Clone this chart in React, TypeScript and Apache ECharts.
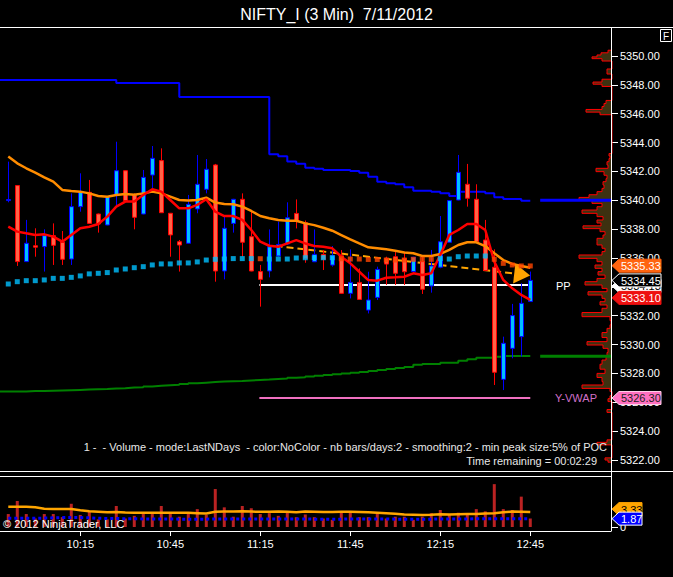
import React, { useEffect, useRef } from 'react';
import * as echarts from 'echarts';

// ---------- data ----------
const times = ['9:51','9:54','9:57','10:00','10:03','10:06','10:09','10:12','10:15','10:18','10:21','10:24','10:27','10:30','10:33','10:36','10:39','10:42','10:45','10:48','10:51','10:54','10:57','11:00','11:03','11:06','11:09','11:12','11:15','11:18','11:21','11:24','11:27','11:30','11:33','11:36','11:39','11:42','11:45','11:48','11:51','11:54','11:57','12:00','12:03','12:06','12:09','12:12','12:15','12:18','12:21','12:24','12:27','12:30','12:33','12:36','12:39','12:42','12:45'];

const opens = [5339.98,5341.02,5335.75,5336.85,5336.79,5337.55,5337.09,5335.93,5339.56,5340.55,
  5339.05,5338.29,5340.37,5342.05,5340.37,5339.05,5341.75,5342.75,5339.10,5337.13,
  5337.02,5339.40,5340.76,5342.45,5335.10,5338.40,5340.07,5337.48,5335.06,5335.10,
  5336.14,5336.97,5339.09,5338.45,5335.74,5336.25,5335.51,5336.16,5333.55,5334.31,
  5332.39,5333.27,5335.97,5336.09,5335.97,5335.06,5335.75,5334.06,5335.36,5337.09,
  5340.02,5341.11,5340.07,5337.25,5335.36,5327.59,5329.74,5330.55,5332.98];
const closes = [5340.05,5335.75,5337.02,5336.75,5337.55,5336.88,5335.91,5339.56,5340.60,5338.40,
  5338.36,5340.25,5342.05,5339.98,5338.82,5341.59,5342.91,5339.14,5337.60,5336.90,
  5339.72,5341.11,5342.15,5335.10,5338.06,5340.07,5337.09,5335.10,5334.52,5336.78,
  5336.94,5338.79,5338.59,5335.97,5336.25,5335.91,5336.16,5333.55,5334.31,5333.13,
  5333.09,5335.21,5335.58,5334.94,5335.05,5336.05,5333.83,5335.45,5337.13,5339.98,
  5341.94,5340.14,5337.13,5335.13,5328.08,5330.09,5332.01,5332.86,5334.45];
const lows = [5339.86,5335.45,5335.72,5336.09,5335.06,5335.52,5335.52,5335.52,5339.21,5338.38,
  5337.76,5338.27,5339.56,5339.96,5337.99,5339.03,5340.83,5339.12,5336.09,5335.06,
  5337.00,5339.10,5340.48,5334.36,5334.52,5337.76,5336.09,5335.08,5332.63,5334.66,
  5336.09,5336.90,5338.05,5335.67,5335.72,5335.17,5335.40,5333.53,5333.20,5333.11,
  5332.16,5333.09,5334.13,5334.13,5334.13,5334.90,5333.51,5333.60,5335.29,5337.07,
  5340.00,5339.56,5337.11,5335.11,5327.20,5326.85,5329.05,5329.17,5332.96];
const highs = [5342.68,5341.05,5338.64,5338.06,5337.99,5338.40,5337.87,5340.48,5341.87,5341.41,
  5339.08,5340.28,5344.06,5342.07,5340.48,5342.10,5343.76,5343.60,5339.12,5337.25,
  5340.37,5343.14,5342.86,5342.52,5338.91,5340.10,5340.48,5339.21,5335.52,5337.98,
  5338.52,5339.86,5340.06,5338.60,5337.98,5336.55,5336.83,5336.55,5336.60,5335.28,
  5335.05,5335.40,5336.09,5336.44,5336.44,5336.08,5336.10,5336.56,5338.91,5340.02,
  5343.14,5342.52,5341.11,5338.64,5336.60,5330.55,5332.82,5334.25,5335.06];

const slowMA = [5343.03,5342.56,5342.22,5341.92,5341.59,5341.29,5340.72,5340.65,5340.60,5340.48,
  5340.30,5340.25,5340.37,5340.44,5340.39,5340.48,5340.60,5340.48,5340.25,5340.02,
  5339.98,5340.02,5340.18,5339.84,5339.75,5339.72,5339.56,5339.26,5338.91,5338.75,
  5338.63,5338.58,5338.58,5338.40,5338.28,5338.10,5337.89,5337.59,5337.29,5337.01,
  5336.74,5336.67,5336.60,5336.51,5336.38,5336.33,5336.14,5336.14,5336.28,5336.56,
  5336.90,5337.09,5337.09,5336.83,5336.33,5335.86,5335.59,5335.45,5335.33];
const fastMA = [5338.17,5337.83,5337.71,5337.60,5337.64,5337.48,5337.13,5337.60,5338.06,5338.17,
  5338.36,5338.87,5339.56,5339.91,5339.91,5340.37,5340.76,5340.60,5340.02,5339.44,
  5339.44,5339.68,5340.07,5339.21,5338.91,5338.91,5338.64,5337.94,5337.13,5336.85,
  5336.78,5337.01,5337.24,5337.01,5336.83,5336.78,5336.67,5336.09,5335.63,5335.05,
  5334.47,5334.43,5334.63,5334.66,5334.70,5334.94,5334.82,5334.94,5336.21,5337.60,
  5337.94,5338.36,5338.36,5337.94,5335.75,5334.48,5333.90,5333.44,5333.10];
const vwapDots = [5334.20,5334.36,5334.43,5334.43,5334.48,5334.59,5334.59,5334.66,5334.76,5334.90,
  5334.94,5334.99,5335.17,5335.24,5335.33,5335.40,5335.52,5335.59,5335.59,5335.66,
  5335.66,5335.73,5335.86,5335.91,5335.93,5335.96,5335.96,5335.96,5335.95,5335.93,
  5335.93,5335.93,5336.00,5336.02,5336.02,5336.02,5336.02,5335.95,5335.93,5335.93,
  5335.90,5335.90,5335.86,5335.86,5335.86,5335.91,5335.91,5335.91,5335.96,5335.93,
  5336.09,5336.14,5336.14,5336.14,5335.91,5335.63,5335.52,5335.45,5335.45];
const vwapBelow = [0,0,0,0,0,0,0,0,0,0, 0,0,0,0,0,0,0,0,0,0, 0,0,0,0,0,0,0,0,1,0,
  0,0,0,0,0,0,0,1,1,1, 1,1,1,1,1,1,1,1,0,0, 0,0,0,0,1,1,1,1,1];

const blueStep = [5348.34,5348.34,5348.34,5348.34,5348.34,5348.34,5348.34,5348.34,5348.34,5348.34,
  5348.34,5348.34,5348.13,5348.13,5348.13,5348.13,5348.13,5348.13,5348.13,5347.16,
  5347.16,5347.16,5347.16,5347.16,5347.16,5347.16,5347.16,5347.16,5347.16,5343.19,
  5343.05,5342.68,5342.54,5342.26,5342.19,5342.10,5342.10,5342.10,5342.03,5341.91,
  5341.64,5341.29,5341.18,5341.11,5340.90,5340.67,5340.67,5340.60,5340.49,5340.30,
  5340.60,5340.60,5340.60,5340.49,5340.21,5340.09,5340.09,5339.97,5339.97];
const greenStep = [5326.75,5326.75,5326.78,5326.78,5326.80,5326.82,5326.84,5326.86,5326.88,5326.90,
  5326.92,5326.95,5326.98,5327.02,5327.05,5327.10,5327.14,5327.18,5327.22,5327.27,
  5327.32,5327.36,5327.40,5327.44,5327.46,5327.48,5327.52,5327.55,5327.58,5327.62,
  5327.65,5327.70,5327.74,5327.79,5327.84,5327.89,5327.95,5328.00,5328.05,5328.10,
  5328.17,5328.24,5328.31,5328.38,5328.45,5328.60,5328.66,5328.66,5328.75,5328.75,
  5328.88,5328.98,5329.09,5329.09,5329.16,5329.21,5329.21,5329.21,5329.24];

const volumes = [2.9,5.8,2.9,1.9,2.9,2.9,2.2,5.2,2.7,3.4,
  1.7,1.7,4.7,1.9,2.5,2.9,2.9,4.7,2.9,2.3,
  3.1,4.0,2.7,8.5,4.4,2.3,4.7,4.2,2.9,3.1,
  2.5,3.2,2.2,2.8,2.2,1.9,1.6,3.2,3.4,2.2,
  2.2,3.1,1.9,2.3,2.3,1.6,2.3,3.1,3.8,2.9,
  3.2,2.9,4.0,3.5,9.6,4.0,3.8,6.8,1.9];
const volSlowAvg = [4.55,4.55,4.55,4.4,4.1,4.05,4.05,4.05,3.75,3.5,
  3.4,3.3,3.35,3.25,3.2,3.2,3.2,3.2,3.2,3.2,
  3.2,3.1,3.0,3.4,3.45,3.45,3.5,3.45,3.4,3.4,
  3.45,3.4,3.3,3.45,3.4,3.35,3.35,3.4,3.4,3.35,
  3.3,3.2,3.1,2.95,2.8,2.75,2.7,2.75,2.85,2.8,
  2.85,2.9,2.9,3.0,3.1,3.3,3.45,3.4,3.33];
const volFastAvg = [1.95,1.95,1.95,1.95,2.0,2.05,2.1,2.1,2.1,2.05,
  1.95,1.9,1.9,1.85,1.85,1.8,1.8,1.8,1.8,1.75,
  1.75,1.75,1.75,1.8,1.8,1.8,1.8,1.8,1.8,1.8,
  1.8,1.8,1.8,1.8,1.75,1.75,1.75,1.75,1.8,1.8,
  1.8,1.8,1.8,1.75,1.75,1.75,1.75,1.75,1.8,1.8,
  1.8,1.8,1.85,1.85,1.85,1.87,1.87,1.87,1.87];

const profilePrice = [5321.95,5322.05,5323.15,5323.30,5325.40,5326.15,5326.35,5326.85,5327.08,5327.32,
  5327.55,5327.89,5328.12,5328.47,5328.81,5329.05,5329.28,5329.63,5329.85,5330.09,
  5330.32,5330.66,5331.01,5331.24,5331.50,5331.82,5332.05,5332.40,5332.63,5332.86,
  5333.09,5333.32,5333.55,5333.78,5334.01,5334.25,5334.47,5334.70,5334.94,5335.17,
  5335.40,5335.63,5335.86,5336.09,5336.33,5336.56,5336.79,5337.02,5337.25,5337.48,
  5337.71,5337.94,5338.13,5338.33,5338.52,5338.75,5338.98,5339.21,5339.44,5339.67,
  5339.90,5340.12,5340.28,5340.49,5340.71,5340.94,5341.18,5341.40,5341.60,5341.87,
  5342.10,5342.33,5342.56,5342.79,5343.00,5343.14,5346.03,5346.19,5346.40,5346.60,
  5346.82,5347.99,5348.10,5348.29,5348.85,5349.00,5349.75,5349.88,5350.00,5350.14,5350.30];
const profileVol = [4,7,15,5,5,4,2,2,30,9,
  10,15,7,12,10,6,5,4,9,25,
  5,10,5,2,1,2,30,10,5,12,
  7,10,24,5,10,27,15,7,14,10,
  17,10,15,33,10,7,10,15,15,9,
  7,12,29,11,15,9,15,30,15,10,
  20,33,23,15,10,8,9,6,5,8,
  16,4,5,3,2,3,12,26,10,8,
  6,10,19,10,5,5,10,20,15,11,4];

const priceTicks = [5322,5324,5326,5328,5330,5332,5334,5336,5338,5340,5342,5344,5346,5348,5350];
const timeTickLabels = ['10:15','10:45','11:15','11:45','12:15','12:45'];
const ppLevel = 5334.13;
const yVwapLevel = 5326.30;
const blueRef = 5340.0;
const greenRef = 5329.2;
const levelStartTime = '11:15';
const trendStart = [29.7, 5336.83];
const trendEnd = [57.1, 5334.86];

const titleText = 'NIFTY_I (3 Min)  7/11/2012';
const infoText1 = '1 -  - Volume - mode:LastNDays  - color:NoColor - nb bars/days:2 - smoothing:2 - min peak size:5% of POC';
const infoText2 = 'Time remaining = 00:02:29';
const copyText = '\u00a9 2012 NinjaTrader, LLC';

// ---------- layout ----------
const X_MIN = -0.92;
const X_MAX = 67.08;
const P_MIN = 5321.24;
const P_MAX = 5351.94;
const FONT = '"Liberation Sans", Arial, Helvetica, sans-serif';

function buildOption() {
  const n = times.length;
  const idx = times.map((_, i) => i);
  const tickIdx = timeTickLabels.map((t) => times.indexOf(t));
  const lvStart = times.indexOf(levelStartTime);
  const noGridBounds = { containLabel: false, outerBoundsMode: 'none' };
  const hiddenLine = { show: false, onZero: false };

  const profileRender = (params: any, api: any) => {
    const pts: number[][] = [];
    const m = profilePrice.length;
    for (let i = 0; i < m; i++) {
      const p = profilePrice[i];
      const prevAdj = i > 0 && p - profilePrice[i - 1] <= 0.36;
      const nextAdj = i < m - 1 && profilePrice[i + 1] - p <= 0.36;
      const lo = prevAdj ? (p + profilePrice[i - 1]) / 2 : p - 0.1;
      const hi = nextAdj ? (p + profilePrice[i + 1]) / 2 : p + 0.1;
      if (!prevAdj) pts.push(api.coord([0, lo]));
      pts.push(api.coord([profileVol[i], lo]));
      pts.push(api.coord([profileVol[i], hi]));
      if (!nextAdj) pts.push(api.coord([0, hi]));
    }
    return {
      type: 'group',
      children: [
        { type: 'polygon', shape: { points: pts }, style: { fill: '#3d3110', stroke: null } },
        { type: 'polyline', shape: { points: pts }, style: { stroke: '#ff0000', lineWidth: 1, fill: null } },
      ],
    };
  };

  return {
    animation: false,
    backgroundColor: '#000000',
    grid: [
      { left: 0, top: 28, width: 612, height: 443, ...noGridBounds },
      { left: 552, top: 28, width: 60, height: 443, ...noGridBounds },
      { left: 0, top: 477, width: 612, height: 54, ...noGridBounds },
    ],
    xAxis: [
      { type: 'value', gridIndex: 0, min: X_MIN, max: X_MAX, show: false, axisLine: hiddenLine, splitLine: { show: false } },
      { type: 'value', gridIndex: 1, min: 0, max: 60, inverse: true, show: false, axisLine: hiddenLine, splitLine: { show: false } },
      {
        type: 'value', gridIndex: 2, min: X_MIN, max: X_MAX, position: 'bottom',
        axisLine: hiddenLine, splitLine: { show: false },
        axisTick: { show: true, length: 5, lineStyle: { color: '#ffffff' }, customValues: tickIdx },
        axisLabel: {
          show: true, customValues: tickIdx, color: '#ffffff', fontSize: 11, fontFamily: FONT, margin: 7,
          formatter: (v: number) => times[Math.round(v)] ?? '',
        },
      },
    ],
    yAxis: [
      {
        type: 'value', gridIndex: 0, position: 'right', min: P_MIN, max: P_MAX,
        axisLine: hiddenLine, splitLine: { show: false },
        axisTick: { show: true, length: 6, lineStyle: { color: '#ffffff' }, customValues: priceTicks },
        axisLabel: {
          show: true, customValues: priceTicks, color: '#ffffff', fontSize: 11, fontFamily: FONT, margin: 8,
          formatter: (v: number) => v.toFixed(2),
        },
      },
      { type: 'value', gridIndex: 1, min: P_MIN, max: P_MAX, show: false, axisLine: hiddenLine, splitLine: { show: false } },
      {
        type: 'value', gridIndex: 2, position: 'right', min: -0.9, max: 11.2,
        axisLine: hiddenLine, splitLine: { show: false },
        axisTick: { show: true, length: 6, lineStyle: { color: '#ffffff' }, customValues: [0] },
        axisLabel: { show: true, customValues: [0], color: '#ffffff', fontSize: 11, fontFamily: FONT, margin: 8, formatter: () => '0' },
      },
    ],
    series: [
      { type: 'custom', name: 'profile', xAxisIndex: 1, yAxisIndex: 1, z: 2, silent: true, data: [[0, P_MIN]], renderItem: profileRender },
      {
        type: 'line', name: 'blueStep', xAxisIndex: 0, yAxisIndex: 0, step: 'end', symbol: 'none', z: 3, silent: true,
        lineStyle: { color: '#0000ff', width: 2 },
        data: [[X_MIN, blueStep[0]], ...idx.map((i) => [i, blueStep[i]])],
      },
      {
        type: 'line', name: 'blueExt', xAxisIndex: 0, yAxisIndex: 0, symbol: 'none', z: 4, silent: true,
        lineStyle: { color: '#0000ff', width: 3 },
        data: [[n + 0.1, blueRef], [X_MAX, blueRef]],
      },
      {
        type: 'line', name: 'greenStep', xAxisIndex: 0, yAxisIndex: 0, step: 'end', symbol: 'none', z: 3, silent: true,
        lineStyle: { color: '#008000', width: 2 },
        data: [[X_MIN, greenStep[0]], ...idx.map((i) => [i, greenStep[i]])],
      },
      {
        type: 'line', name: 'greenExt', xAxisIndex: 0, yAxisIndex: 0, symbol: 'none', z: 4, silent: true,
        lineStyle: { color: '#008000', width: 3 },
        data: [[n + 0.1, greenRef], [X_MAX, greenRef]],
      },
      {
        type: 'line', name: 'PP', xAxisIndex: 0, yAxisIndex: 0, symbol: 'none', z: 4, silent: true,
        lineStyle: { color: '#ffffff', width: 2 },
        data: [[lvStart - 0.1, ppLevel], [n - 1, ppLevel]],
      },
      {
        type: 'line', name: 'Y-VWAP', xAxisIndex: 0, yAxisIndex: 0, symbol: 'none', z: 4, silent: true,
        lineStyle: { color: '#f070c0', width: 2 },
        data: [[lvStart - 0.1, yVwapLevel], [n - 1, yVwapLevel]],
      },
      {
        type: 'candlestick', name: 'price', xAxisIndex: 0, yAxisIndex: 0, z: 5, silent: true, barWidth: 5,
        itemStyle: { color: '#00bfff', color0: '#ff6347', borderColor: '#0000ff', borderColor0: '#ff0000', borderWidth: 1 },
        data: idx.map((i) => [i, opens[i], closes[i], lows[i], highs[i]]),
      },
      {
        type: 'line', name: 'slowMA', xAxisIndex: 0, yAxisIndex: 0, symbol: 'none', z: 6, silent: true,
        lineStyle: { color: '#ff8c00', width: 2.5 },
        data: idx.map((i) => [i, slowMA[i]]),
        markLine: {
          silent: true, symbol: ['none', 'triangle'], symbolSize: [20, 16],
          label: { show: false },
          lineStyle: { color: '#ffa500', width: 2, type: [7, 4] },
          data: [[{ coord: trendStart }, { coord: trendEnd }]],
        },
      },
      {
        type: 'line', name: 'fastMA', xAxisIndex: 0, yAxisIndex: 0, symbol: 'none', z: 6, silent: true,
        lineStyle: { color: '#ff0000', width: 2.5 },
        data: idx.map((i) => [i, fastMA[i]]),
      },
      {
        type: 'scatter', name: 'vwap', xAxisIndex: 0, yAxisIndex: 0, z: 7, silent: true, symbol: 'rect', symbolSize: 5,
        data: idx.map((i) => ({ value: [i, vwapDots[i]], itemStyle: { color: vwapBelow[i] ? '#ff4500' : '#00bfff' } })),
      },
      {
        type: 'bar', name: 'volume', xAxisIndex: 2, yAxisIndex: 2, barWidth: 3, silent: true, z: 2,
        itemStyle: { color: '#bb2222' },
        data: idx.map((i) => [i, volumes[i]]),
      },
      {
        type: 'line', name: 'volSlow', xAxisIndex: 2, yAxisIndex: 2, symbol: 'none', z: 4, silent: true,
        lineStyle: { color: '#ffa500', width: 2.5 },
        data: idx.map((i) => [i, volSlowAvg[i]]),
      },
      {
        type: 'line', name: 'volFast', xAxisIndex: 2, yAxisIndex: 2, symbol: 'none', z: 3, silent: true,
        lineStyle: { color: '#0000ff', width: 3, type: 'dotted' },
        data: idx.map((i) => [i, volFastAvg[i]]),
      },
    ],
  };
}

function txt(x: number, y: number, text: string, fill: string, size: number, align: string, z = 60) {
  return {
    type: 'text', x, y, z, silent: true,
    style: { text, fill, fontSize: size, fontFamily: FONT, align, verticalAlign: 'middle', textAlign: align, textVerticalAlign: 'middle' },
  };
}
function ln(x1: number, y1: number, x2: number, y2: number, z = 50) {
  return { type: 'line', z, silent: true, shape: { x1, y1, x2, y2 }, style: { stroke: '#ffffff', lineWidth: 1 } };
}
function tag(y: number, text: string, bg: string, fg: string, w: number, z: number, stroke?: string) {
  return {
    type: 'group', silent: true,
    children: [
      {
        type: 'polygon', z,
        shape: { points: [[612, y], [619, y - 6.5], [612 + w, y - 6.5], [612 + w, y + 6.5], [619, y + 6.5]] },
        style: { fill: bg, stroke: stroke || bg, lineWidth: 1 },
      },
      {
        type: 'text', z: z + 1, x: 621, y: y + 0.5,
        style: { text, fill: fg, fontSize: 11, fontFamily: FONT, align: 'left', verticalAlign: 'middle', textAlign: 'left', textVerticalAlign: 'middle' },
      },
    ],
  };
}

function buildGraphics(py: (v: number) => number, vy: (v: number) => number) {
  const n = times.length;
  return [
    ln(0, 27.5, 673, 27.5),
    ln(0, 471.5, 673, 471.5),
    ln(611.5, 27, 611.5, 531),
    ln(0, 476.5, 611.5, 476.5),
    ln(0, 531.5, 611.5, 531.5),
    txt(336.5, 14, titleText, '#ffffff', 16, 'center'),
    txt(607, 447, infoText1, '#e8e8e8', 11, 'right'),
    txt(597, 461, infoText2, '#e8e8e8', 11, 'right'),
    txt(3, 524, copyText, '#ffffff', 11, 'left', 70),
    txt(556, py(ppLevel) + 1, 'PP', '#ffffff', 11, 'left'),
    txt(555, py(yVwapLevel), 'Y-VWAP', '#d070c8', 11, 'left'),
    { type: 'rect', z: 60, silent: true, shape: { x: 660.5, y: 29.5, width: 11, height: 12 }, style: { fill: '#000000', stroke: '#ffffff', lineWidth: 1 } },
    txt(666, 36, 'F', '#ffffff', 10, 'center', 61),
    tag(py(ppLevel) + 1, ppLevel.toFixed(2), '#ffffff', '#000000', 49, 80),
    tag(py(closes[n - 1]), closes[n - 1].toFixed(2), '#000000', '#ffffff', 49, 82, '#ffffff'),
    tag(py(slowMA[n - 1]) - 2, slowMA[n - 1].toFixed(2), '#ff6410', '#ffffff', 49, 84),
    tag(py(fastMA[n - 1]) - 2, fastMA[n - 1].toFixed(2), '#ee1010', '#ffffff', 49, 86),
    tag(py(yVwapLevel), yVwapLevel.toFixed(2), '#ff70c0', '#202020', 49, 88, '#ffd0ea'),
    tag(vy(volSlowAvg[n - 1]) - 3, volSlowAvg[n - 1].toFixed(2), '#ffa500', '#000000', 30, 80),
    tag(vy(volFastAvg[n - 1]), volFastAvg[n - 1].toFixed(2), '#0000ff', '#ffffff', 30, 82, '#ffffff'),
  ];
}

export default function App() {
  const ref = useRef<HTMLDivElement>(null);
  useEffect(() => {
    document.body.style.margin = '0';
    document.body.style.background = '#000000';
    const el = ref.current as HTMLDivElement;
    const chart = echarts.init(el, null, { renderer: 'svg' });
    chart.setOption(buildOption() as any);
    const py = (v: number) => chart.convertToPixel({ yAxisIndex: 0 } as any, v) as unknown as number;
    const vy = (v: number) => chart.convertToPixel({ yAxisIndex: 2 } as any, v) as unknown as number;
    chart.setOption({ graphic: buildGraphics(py, vy) } as any);
    return () => chart.dispose();
  }, []);
  return (
    <div
      ref={ref}
      style={{ position: 'absolute', left: 0, top: 0, width: 673, height: 577, background: '#000000' }}
    />
  );
}
